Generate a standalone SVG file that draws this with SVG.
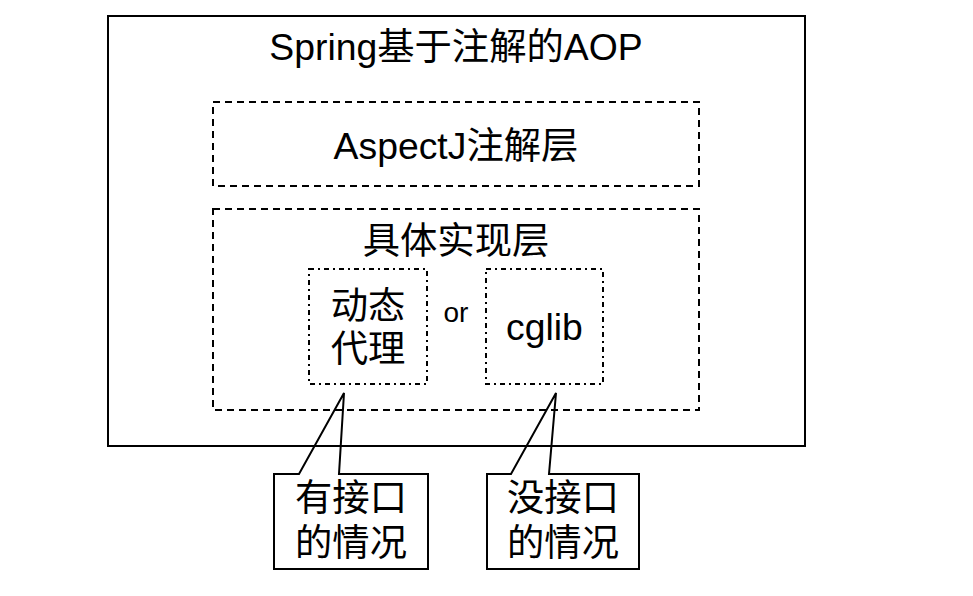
<svg xmlns="http://www.w3.org/2000/svg" width="973" height="596" viewBox="0 0 973 596">
<style>
text{font-family:"Liberation Sans","Noto Sans CJK SC",sans-serif;font-size:37.33px;fill:#000;text-anchor:middle}
.solid{fill:none;stroke:#000;stroke-width:2}
.dash{fill:none;stroke:#000;stroke-width:2;stroke-dasharray:7 5}
.dashdot{fill:none;stroke:#000;stroke-width:2;stroke-dasharray:5 4 2 4}
</style>
<rect width="973" height="596" fill="#fff"/>
<g id="outer">
<rect class="solid" x="108" y="16" width="697" height="430"/>
<text x="456" y="60">Spring基于注解的AOP</text>
</g>
<g id="aspectj">
<rect class="dash" x="213" y="102" width="486" height="84"/>
<text x="456" y="159">AspectJ注解层</text>
</g>
<g id="impl">
<rect class="dash" x="213" y="209" width="486" height="201"/>
<text x="456" y="254">具体实现层</text>
</g>
<g id="proxy">
<rect class="dashdot" x="309" y="269" width="118" height="115"/>
<text x="368" y="319">动态</text>
<text x="368" y="362">代理</text>
</g>
<g id="or">
<text x="456" y="322" style="font-size:28px">or</text>
</g>
<g id="cglib">
<rect class="dashdot" x="486" y="269" width="117" height="115"/>
<text x="544.5" y="340">cglib</text>
</g>
<g id="connectors">
<path class="solid" d="M274,474 L299,474 L344,393 L339,474 L428,474 L428,569 L274,569 Z"/>
<path class="solid" d="M487,474 L511,474 L556,393 L549,474 L639,474 L639,569 L487,569 Z"/>
</g>
<g id="callout-interface">
<text x="351" y="511">有接口</text>
<text x="351" y="556">的情况</text>
</g>
<g id="callout-nointerface">
<text x="563" y="511">没接口</text>
<text x="563" y="556">的情况</text>
</g>
</svg>
